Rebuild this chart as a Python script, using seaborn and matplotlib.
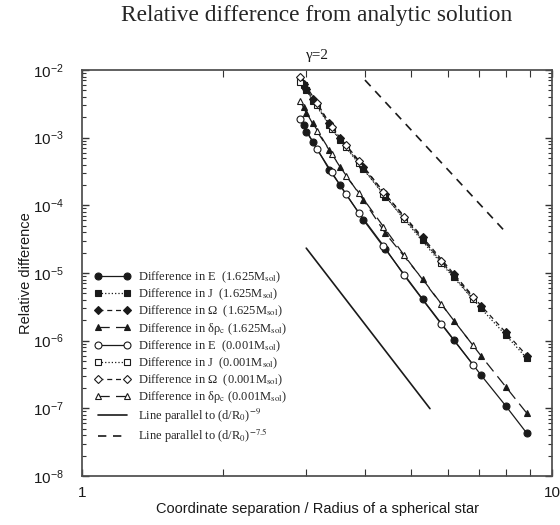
import numpy as np
import pandas as pd
import seaborn as sns
import matplotlib
matplotlib.use('Agg')
import matplotlib.pyplot as plt
from matplotlib.font_manager import FontProperties
from matplotlib.ticker import NullFormatter, FixedLocator, FixedFormatter, LogLocator

# coordinate separation d/R0 for each star model
sep_heavy = [2.96, 3.0, 3.1, 3.36, 3.54, 3.97, 4.42, 5.31, 6.19, 7.06, 7.97, 8.84]
sep_light = [2.91, 3.16, 3.40, 3.64, 3.89, 4.38, 4.84, 5.81, 6.79]

# relative differences, 1.625 Msol
E_heavy = [1.54e-3, 1.22e-3, 8.7e-4, 3.33e-4, 2.0e-4, 6.07e-5, 2.24e-5, 4.08e-6, 1.02e-6, 3.11e-7, 1.09e-7, 4.28e-8]
J_heavy = [6.0e-3, 5.06e-3, 3.48e-3, 1.54e-3, 9.2e-4, 3.40e-4, 1.34e-4, 3.08e-5, 8.8e-6, 3.0e-6, 1.21e-6, 5.48e-7]
W_heavy = [6.3e-3, 5.3e-3, 3.7e-3, 1.65e-3, 9.9e-4, 3.65e-4, 1.45e-4, 3.35e-5, 9.6e-6, 3.3e-6, 1.33e-6, 6.0e-7]
rho_heavy = [2.86e-3, 2.29e-3, 1.63e-3, 6.58e-4, 3.72e-4, 1.20e-4, 3.87e-5, 8.07e-6, 1.96e-6, 6.0e-7, 2.09e-7, 8.46e-8]

# relative differences, 0.001 Msol
E_light = [1.87e-3, 6.79e-4, 3.08e-4, 1.47e-4, 7.62e-5, 2.53e-5, 9.33e-6, 1.76e-6, 4.42e-7]
J_light = [6.71e-3, 3.04e-3, 1.33e-3, 7.34e-4, 4.18e-4, 1.47e-4, 6.28e-5, 1.39e-5, 4.08e-6]
W_light = [7.96e-3, 3.3e-3, 1.43e-3, 7.9e-4, 4.5e-4, 1.58e-4, 6.8e-5, 1.5e-5, 4.4e-6]
rho_light = [3.48e-3, 1.25e-3, 5.73e-4, 2.74e-4, 1.51e-4, 4.83e-5, 1.85e-5, 3.48e-6, 8.53e-7]

# reference slopes (end points)
ref9_x = [3.0, 5.5]
ref9_y = [2.33e-5, 9.9e-8]
ref75_x = [4.0, 8.0]
ref75_y = [7.1e-3, 3.9e-5]

labels = [
    r'Difference in E  (1.625M$_{\rm sol}$)',
    r'Difference in J  (1.625M$_{\rm sol}$)',
    r'Difference in Ω  (1.625M$_{\rm sol}$)',
    r'Difference in δρ$_{\rm c}$ (1.625M$_{\rm sol}$)',
    r'Difference in E  (0.001M$_{\rm sol}$)',
    r'Difference in J  (0.001M$_{\rm sol}$)',
    r'Difference in Ω  (0.001M$_{\rm sol}$)',
    r'Difference in δρ$_{\rm c}$ (0.001M$_{\rm sol}$)',
    r'Line parallel to (d/R$_0$)$^{-9}$',
    r'Line parallel to (d/R$_0$)$^{-7.5}$',
]

sns.set_theme(style="ticks")
plt.rcParams['font.family'] = ['Liberation Sans', 'DejaVu Sans']
plt.rcParams['axes.edgecolor'] = '0.3'

fig = plt.figure(figsize=(5.6, 5.25), dpi=100)
ax = fig.add_axes([82 / 560, 1 - 476 / 525, 470 / 560, 406 / 525])

series = [
    (sep_heavy, E_heavy, 'o', '-', 'k'),
    (sep_heavy, J_heavy, 's', ':', 'k'),
    (sep_heavy, W_heavy, 'D', (0, (4, 3)), 'k'),
    (sep_heavy, rho_heavy, '^', (0, (9, 5)), 'k'),
    (sep_light, E_light, 'o', '-', 'white'),
    (sep_light, J_light, 's', ':', 'white'),
    (sep_light, W_light, 'D', (0, (4, 3)), 'white'),
    (sep_light, rho_light, '^', (0, (9, 5)), 'white'),
]

for xs, ys, mk, ls, fc in series:
    ms = 4.2 if mk == 'D' else 5
    sns.lineplot(x=xs, y=ys, ax=ax, color='k', lw=0.9, linestyle=ls,
                 marker=mk, markersize=ms, markerfacecolor=fc,
                 markeredgecolor='k', markeredgewidth=0.8, sort=False)

sns.lineplot(x=ref9_x, y=ref9_y, ax=ax, color='k', lw=1.2, linestyle='-', sort=False)
sns.lineplot(x=ref75_x, y=ref75_y, ax=ax, color='k', lw=1.2, linestyle=(0, (5, 4)), sort=False)

ax.set_xscale('log')
ax.set_yscale('log')
ax.set_xlim(1, 10)
ax.set_ylim(1e-8, 1e-2)

ax.xaxis.set_major_locator(FixedLocator([1, 10]))
ax.xaxis.set_major_formatter(FixedFormatter(['1', '10']))
ax.xaxis.set_minor_locator(FixedLocator(np.arange(2, 10)))
ax.xaxis.set_minor_formatter(NullFormatter())
ax.yaxis.set_major_locator(LogLocator(base=10, numticks=10))
ax.yaxis.set_minor_locator(LogLocator(base=10, subs=np.arange(2, 10), numticks=20))
ax.yaxis.set_minor_formatter(NullFormatter())

ax.tick_params(which='both', direction='in', top=True, right=True, color='0.2',
               labelsize=11, labelcolor='k')
ax.tick_params(which='major', length=5, width=1)
ax.tick_params(which='minor', length=3, width=0.8)
ax.tick_params(axis='x', which='minor', length=5)
ax.tick_params(axis='x', pad=7)
ax.tick_params(axis='y', pad=13)

ax.set_xlabel('Coordinate separation / Radius of a spherical star', fontsize=10.5,
              labelpad=2, color='k')
ax.set_ylabel('Relative difference', fontsize=10.5, labelpad=0, color='k')
ax.set_title('γ=2', fontsize=11, family='Liberation Serif', pad=8, color='k')

fig.text(317 / 560, 1 - 21 / 525, 'Relative difference from analytic solution',
         ha='center', va='baseline', fontsize=16.8, family='Liberation Serif')

leg_font = FontProperties(family='Liberation Serif', size=9, math_fontfamily='stix')
ax.legend(handles=ax.get_lines(), labels=labels, loc='upper left',
          bbox_to_anchor=(12 / 470, (476 - 270) / 406), frameon=False, prop=leg_font,
          handlelength=2.9, handletextpad=0.6, labelspacing=0.12, numpoints=2,
          borderaxespad=0, borderpad=0)

fig.savefig('out.png', dpi=100)
